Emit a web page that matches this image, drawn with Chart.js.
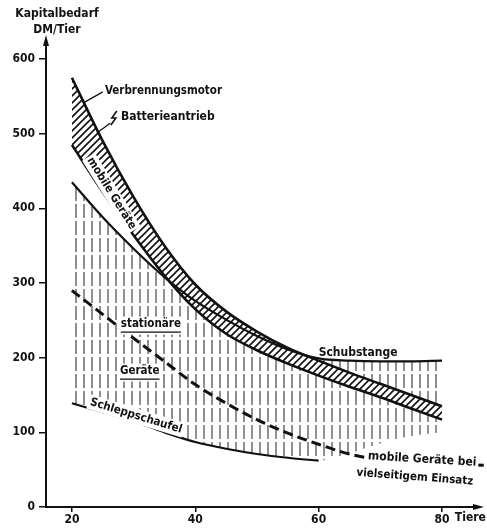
<!DOCTYPE html>
<html>
<head>
<meta charset="utf-8">
<script src="https://cdn.jsdelivr.net/npm/chart.js@4.4.0/dist/chart.umd.min.js"></script>
<style>
  html, body { margin: 0; padding: 0; background: #fff; }
  #wrap { width: 487px; height: 532px; }
</style>
</head>
<body>
<div id="wrap"><canvas id="c"></canvas></div>
<script>
/* Kapitalbedarf je Tier – Entmistungsverfahren */

const tiere             = [20, 25, 30, 35, 40, 45, 50, 55, 60, 65, 70, 75, 80];
const verbrennungsmotor = [575, 490, 415, 350, 298, 262, 235, 213, 196, 180, 165, 150, 135];
const batterieantrieb   = [485, 422, 364, 310, 265, 232, 210, 192, 176, 161, 147, 132, 117];
const schubstange       = [435, 388, 346, 308, 276, 251, 229, 211, 199, 196, 195, 195, 196];
const schleppX          = [20, 25, 30, 35, 40, 45, 50, 55, 60];
const schleppschaufel   = [139, 127, 115, 100, 87, 78, 71, 66, 62];
const hatchFloorTail    = [72, 85, 95, 100];          // lower edge of hatching, 65..80
const einsatzX          = [20, 25, 30, 35, 40, 45, 50, 55, 60, 65, 70, 75, 80, 87];
const vielseitig        = [290, 258, 226, 195, 164, 139, 117, 99, 84, 71, 63, 59, 57, 56];

const xTicks = [20, 40, 60, 80];
const yTicks = [0, 100, 200, 300, 400, 500, 600];

const FONT = '"DejaVu Sans Condensed", "DejaVu Sans", sans-serif';
const INK  = '#111';

const pts = (xs, ys) => xs.map((x, i) => ({ x, y: ys[i] }));

/* ── hatch patterns ─────────────────────────── */
function diagPattern() {
  const s = 7, c = document.createElement('canvas');
  c.width = c.height = s;
  const g = c.getContext('2d');
  g.fillStyle = '#fff'; g.fillRect(0, 0, s, s);
  g.strokeStyle = INK; g.lineWidth = 1.6;
  g.beginPath();
  g.moveTo(-1, s + 1); g.lineTo(s + 1, -1);
  g.moveTo(-1, 1); g.lineTo(1, -1);
  g.moveTo(s - 1, s + 1); g.lineTo(s + 1, s - 1);
  g.stroke();
  return g.createPattern(c, 'repeat');
}
function vertPattern() {
  const c = document.createElement('canvas');
  c.width = 8; c.height = 17;
  const g = c.getContext('2d');
  g.strokeStyle = '#333'; g.lineWidth = 1.1;
  g.beginPath(); g.moveTo(4, 0); g.lineTo(4, 14); g.stroke();
  return g.createPattern(c, 'repeat');
}

/* ── text notes, anchored in data units ─────── */
const notes = [
  { t: 'Verbrennungsmotor',   x: 25.35, y: 557, size: 11.5, align: 'left' },
  { t: 'Batterieantrieb',     x: 27.95, y: 522, size: 12, align: 'left' },
  { t: 'mobile Geräte',       x: 26.4,  y: 420, size: 11.5, rot: 58, bg: true },
  { t: 'stationäre',          x: 32.8,  y: 245, size: 11.5, bg: true, under: true },
  { t: 'Geräte',              x: 31.0,  y: 182, size: 11.5, bg: true, under: true },
  { t: 'Schleppschaufel',     x: 30.4,  y: 122, size: 11.5, rot: 17, bg: true },
  { t: 'Schubstange',         x: 66.4,  y: 207, size: 12 },
  { t: 'mobile Geräte bei',   x: 68.0,  y: 68,  size: 12, rot: 3.4, align: 'left', bg: true },
  { t: 'vielseitigem Einsatz', x: 75.6, y: 40,  size: 11.5, rot: 4.4, bg: true }
];
const leaders = [
  [21.8, 541, 25.0, 556],
  [24.05, 501, 26.2, 514]
];

const notesPlugin = {
  id: 'notes',
  afterDatasetsDraw(chart) {
    const { ctx, chartArea: a, scales: { x, y } } = chart;
    ctx.save();
    ctx.strokeStyle = INK; ctx.fillStyle = INK;

    // leader lines
    ctx.lineWidth = 1.3;
    leaders.forEach(l => {
      ctx.beginPath();
      ctx.moveTo(x.getPixelForValue(l[0]), y.getPixelForValue(l[1]));
      ctx.lineTo(x.getPixelForValue(l[2]), y.getPixelForValue(l[3]));
      ctx.stroke();
    });

    // lightning sign in front of "Batterieantrieb"
    const lx = x.getPixelForValue(26.8), ly = y.getPixelForValue(521);
    ctx.lineWidth = 1.6;
    ctx.beginPath();
    ctx.moveTo(lx + 3, ly - 7); ctx.lineTo(lx - 2, ly); ctx.lineTo(lx + 2, ly); ctx.lineTo(lx - 3, ly + 7);
    ctx.stroke();

    notes.forEach(n => {
      const px = x.getPixelForValue(n.x), py = y.getPixelForValue(n.y);
      ctx.save();
      ctx.translate(px, py);
      ctx.rotate((n.rot || 0) * Math.PI / 180);
      ctx.font = `bold ${n.size}px ${FONT}`;
      ctx.textBaseline = 'middle';
      ctx.textAlign = n.align || 'center';
      const w = ctx.measureText(n.t).width;
      const x0 = n.align === 'left' ? 0 : -w / 2;
      if (n.bg) {
        ctx.fillStyle = '#fff';
        ctx.fillRect(x0 - 2, -n.size * 0.65, w + 4, n.size * 1.3 + (n.under ? 3 : 0));
      }
      ctx.fillStyle = INK;
      ctx.fillText(n.t, 0, 0);
      if (n.under) {
        ctx.lineWidth = 1.2;
        ctx.beginPath(); ctx.moveTo(x0, n.size * 0.7); ctx.lineTo(x0 + w, n.size * 0.7); ctx.stroke();
      }
      ctx.restore();
    });

    // axis titles
    ctx.font = `bold 12px ${FONT}`;
    ctx.textAlign = 'center'; ctx.textBaseline = 'middle';
    ctx.fillText('Kapitalbedarf', a.left + 11, a.top - 26);
    ctx.fillText('DM/Tier', a.left + 11, a.top - 10);
    ctx.font = `bold 12px ${FONT}`;
    ctx.fillText('Tiere', x.getPixelForValue(84.6), a.bottom + 11);

    // axis arrows
    ctx.beginPath();
    ctx.moveTo(a.left, a.top - 5); ctx.lineTo(a.left - 3, a.top + 6); ctx.lineTo(a.left + 3, a.top + 6);
    ctx.closePath(); ctx.fill();
    ctx.beginPath();
    ctx.moveTo(a.right + 5, a.bottom); ctx.lineTo(a.right - 6, a.bottom - 3); ctx.lineTo(a.right - 6, a.bottom + 3);
    ctx.closePath(); ctx.fill();
    ctx.restore();
  }
};

const lineBase = { pointRadius: 0, borderColor: INK, cubicInterpolationMode: 'monotone', fill: false };

new Chart(document.getElementById('c'), {
  type: 'line',
  data: {
    datasets: [
      { ...lineBase, label: 'Verbrennungsmotor', data: pts(tiere, verbrennungsmotor),
        borderWidth: 2.6, fill: 1, backgroundColor: diagPattern() },
      { ...lineBase, label: 'Batterieantrieb', data: pts(tiere, batterieantrieb), borderWidth: 2.6 },
      { ...lineBase, label: 'Schubstange', data: pts(tiere, schubstange),
        borderWidth: 2.2, fill: 3, backgroundColor: vertPattern() },
      { ...lineBase, label: 'floor', data: pts(tiere, schleppschaufel.concat(hatchFloorTail)),
        borderWidth: 1, borderColor: 'rgba(0,0,0,0)' },
      { ...lineBase, label: 'Schleppschaufel', data: pts(schleppX, schleppschaufel), borderWidth: 2.2 },
      { ...lineBase, label: 'vielseitiger Einsatz', data: pts(einsatzX, vielseitig),
        borderWidth: 3, borderDash: [10, 5], clip: false }
    ]
  },
  options: {
    responsive: true, maintainAspectRatio: false, animation: false,
    layout: { padding: { top: 40, right: 8, left: 0, bottom: 0 } },
    plugins: {
      legend: { display: false },
      tooltip: { enabled: false },
      filler: { drawTime: 'beforeDatasetsDraw' }
    },
    scales: {
      x: {
        type: 'linear', min: 15.8, max: 86,
        afterBuildTicks: s => { s.ticks = xTicks.map(v => ({ value: v })); },
        afterFit: s => { s.height = 25; },
        grid: { drawOnChartArea: false, tickLength: 5, color: INK, lineWidth: 1.5 },
        border: { color: INK, width: 2 },
        ticks: { font: { family: FONT, size: 12, weight: 'bold' }, color: INK, padding: 1, maxRotation: 0 }
      },
      y: {
        type: 'linear', min: 0, max: 625.5,
        afterBuildTicks: s => { s.ticks = yTicks.map(v => ({ value: v })); },
        afterFit: s => { s.width = 46; },
        grid: { drawOnChartArea: false, tickLength: 7, color: INK, lineWidth: 1.5 },
        border: { color: INK, width: 2 },
        ticks: { font: { family: FONT, size: 12, weight: 'bold' }, color: INK, padding: 4 }
      }
    }
  },
  plugins: [notesPlugin]
});
</script>
</body>
</html>
